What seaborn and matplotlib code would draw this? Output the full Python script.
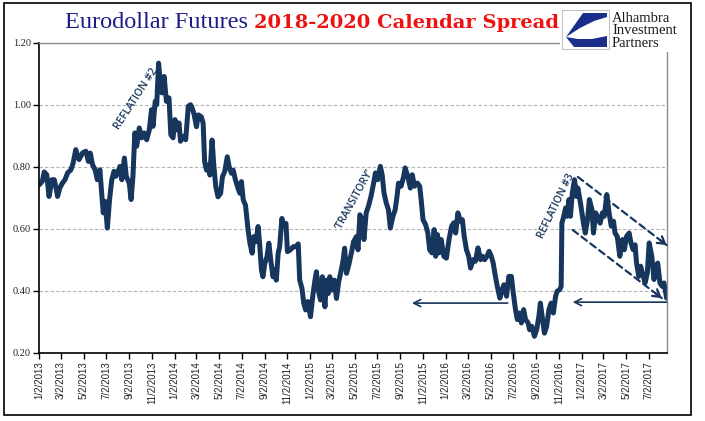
import matplotlib
matplotlib.use("Agg")
import matplotlib.pyplot as plt
from matplotlib.patches import Rectangle, Polygon
import numpy as np
import pandas as pd
import seaborn as sns

# daily-ish spread readings (month-day per year)
md_2013 = ["01-03", "01-11", "01-16", "01-23", "01-29", "02-06", "02-12", "02-16", "02-21", "02-27",
           "03-06", "03-13", "03-20", "03-29", "04-04", "04-11", "04-16", "04-20", "04-29", "05-08",
           "05-15", "05-20", "05-26", "06-02", "06-08", "06-15", "06-19", "06-24", "06-29", "07-05",
           "07-11", "07-17", "07-23", "07-28", "08-03", "08-08", "08-13", "08-20", "08-25", "09-02",
           "09-07", "09-12", "09-17", "09-22", "09-29", "10-06", "10-12", "10-19", "10-26", "11-01",
           "11-05", "11-11", "11-15", "11-20", "11-24", "11-29", "12-05", "12-11", "12-18", "12-23",
           "12-29"]
val_2013 = [0.743, 0.754, 0.784, 0.775, 0.705, 0.759, 0.759, 0.738, 0.705, 0.732,
            0.748, 0.759, 0.781, 0.791, 0.813, 0.856, 0.834, 0.824, 0.845, 0.851,
            0.818, 0.845, 0.808, 0.791, 0.759, 0.791, 0.727, 0.652, 0.689, 0.603,
            0.695, 0.759, 0.786, 0.770, 0.786, 0.802, 0.759, 0.829, 0.770, 0.748,
            0.695, 0.770, 0.910, 0.867, 0.926, 0.894, 0.910, 0.888, 0.920, 0.985,
            0.931, 1.012, 1.001, 1.135, 1.082, 1.039, 1.092, 1.012, 1.023, 0.904,
            0.894]

md_2014 = ["01-03", "01-09", "01-14", "01-18", "01-25", "02-01", "02-08", "02-14", "02-17", "02-23",
           "03-02", "03-07", "03-15", "03-20", "03-24", "03-29", "04-02", "04-07", "04-13", "04-18",
           "04-23", "04-29", "05-06", "05-11", "05-17", "05-24", "05-29", "06-04", "06-09", "06-15",
           "06-22", "06-27", "07-01", "07-06", "07-12", "07-19", "07-24", "07-30", "08-03", "08-09",
           "08-15", "08-19", "08-24", "08-28", "09-02", "09-08", "09-13", "09-18", "09-24", "09-29",
           "10-03", "10-08", "10-12", "10-18", "10-23", "10-29", "11-02", "11-09", "11-18", "11-25",
           "12-01", "12-05", "12-11", "12-16", "12-21", "12-27"]
val_2014 = [0.953, 0.920, 0.942, 0.883, 0.899, 0.888, 0.996, 1.001, 0.995, 0.973,
            0.930, 0.968, 0.962, 0.941, 0.817, 0.790, 0.806, 0.774, 0.887, 0.801,
            0.737, 0.704, 0.715, 0.769, 0.785, 0.833, 0.801, 0.780, 0.790, 0.758,
            0.731, 0.715, 0.753, 0.694, 0.677, 0.597, 0.554, 0.522, 0.575, 0.559,
            0.608, 0.554, 0.468, 0.446, 0.489, 0.511, 0.554, 0.500, 0.446, 0.468,
            0.435, 0.522, 0.543, 0.634, 0.608, 0.618, 0.527, 0.532, 0.543, 0.543,
            0.552, 0.435, 0.409, 0.360, 0.339, 0.366]

md_2015 = ["01-03", "01-09", "01-15", "01-19", "01-24", "01-30", "02-04", "02-11", "02-15", "02-20",
           "02-24", "03-02", "03-08", "03-14", "03-20", "03-27", "04-01", "04-05", "04-10", "04-17",
           "04-23", "04-29", "05-07", "05-11", "05-16", "05-22", "05-27", "06-02", "06-08", "06-15",
           "06-22", "06-27", "07-03", "07-10", "07-15", "07-20", "07-26", "08-01", "08-06", "08-13",
           "08-19", "08-24", "08-28", "09-04", "09-11", "09-15", "09-22", "09-29", "10-04", "10-10",
           "10-18", "10-24", "10-28", "11-02", "11-09", "11-15", "11-20", "11-26", "12-02", "12-06",
           "12-11", "12-15", "12-21", "12-28"]
val_2015 = [0.317, 0.382, 0.435, 0.462, 0.403, 0.371, 0.446, 0.349, 0.435, 0.392,
            0.446, 0.403, 0.435, 0.376, 0.430, 0.468, 0.500, 0.538, 0.457, 0.489,
            0.522, 0.559, 0.576, 0.533, 0.646, 0.630, 0.566, 0.652, 0.673, 0.705,
            0.748, 0.781, 0.759, 0.802, 0.775, 0.716, 0.684, 0.662, 0.603, 0.641,
            0.662, 0.705, 0.748, 0.738, 0.770, 0.797, 0.770, 0.732, 0.775, 0.738,
            0.748, 0.738, 0.695, 0.630, 0.614, 0.587, 0.533, 0.523, 0.598, 0.512,
            0.582, 0.523, 0.566, 0.512]

md_2016 = ["01-04", "01-11", "01-18", "01-24", "01-29", "02-04", "02-11", "02-16", "02-21", "02-27",
           "03-04", "03-09", "03-16", "03-22", "03-29", "04-05", "04-10", "04-16", "04-22", "04-28",
           "05-04", "05-09", "05-15", "05-20", "05-27", "06-02", "06-07", "06-14", "06-20", "06-27",
           "07-01", "07-08", "07-13", "07-19", "07-24", "07-30", "08-04", "08-11", "08-15", "08-21",
           "08-28", "09-03", "09-09", "09-13", "09-18", "09-24", "09-30", "10-06", "10-12", "10-18",
           "10-24", "10-28", "11-04", "11-08", "11-10", "11-15", "11-20", "11-24", "11-29", "12-03",
           "12-08", "12-14", "12-19", "12-23", "12-30"]
val_2016 = [0.506, 0.566, 0.609, 0.620, 0.587, 0.652, 0.625, 0.630, 0.576, 0.533,
            0.512, 0.474, 0.501, 0.496, 0.539, 0.501, 0.512, 0.501, 0.512, 0.528,
            0.512, 0.490, 0.447, 0.415, 0.377, 0.404, 0.420, 0.383, 0.447, 0.447,
            0.404, 0.340, 0.308, 0.329, 0.297, 0.340, 0.308, 0.297, 0.275, 0.286,
            0.254, 0.275, 0.318, 0.361, 0.318, 0.264, 0.286, 0.340, 0.361, 0.329,
            0.383, 0.399, 0.404, 0.415, 0.619, 0.641, 0.668, 0.641, 0.695, 0.641,
            0.716, 0.759, 0.705, 0.732, 0.684]

md_2017 = ["01-07", "01-12", "01-18", "01-23", "01-30", "02-03", "02-09", "02-15", "02-21", "02-27",
           "03-04", "03-11", "03-17", "03-23", "03-29", "04-02", "04-08", "04-15", "04-22", "04-27",
           "05-03", "05-10", "05-15", "05-21", "05-26", "05-30", "06-05", "06-10", "06-15", "06-22",
           "06-28", "07-03", "07-10", "07-16", "07-21", "07-26", "08-01", "08-07", "08-12", "08-19"]
val_2017 = [0.619, 0.587, 0.630, 0.695, 0.662, 0.587, 0.652, 0.635, 0.619, 0.652,
            0.641, 0.711, 0.652, 0.609, 0.625, 0.587, 0.576, 0.512, 0.566, 0.533,
            0.576, 0.587, 0.555, 0.533, 0.549, 0.490, 0.447, 0.480, 0.458, 0.426,
            0.458, 0.555, 0.512, 0.437, 0.480, 0.490, 0.426, 0.415, 0.426, 0.377]

yticks = [0.20, 0.40, 0.60, 0.80, 1.00, 1.20]

# notes on the chart
notes = ["REFLATION #2", "\u2019TRANSITORY\u2019", "REFLATION #3"]
note_dates = ["2013-09-20", "2015-05-02", "2016-10-27"]
note_vals = [1.019, 0.694, 0.674]
note_rot = [57, 61, 64]

# arrows: (tail date, tail value, head date, head value)
solid_arrows = [("2016-06-17", 0.361, "2015-10-03", 0.361),
                ("2017-08-19", 0.364, "2016-12-09", 0.364)]
dashed_arrows = [("2016-12-23", 0.768, "2017-08-19", 0.548),
                 ("2016-12-09", 0.597, "2017-08-06", 0.377)]

NAVY = "#17365d"

parts = []
for yr, md, vv in [(2013, md_2013, val_2013), (2014, md_2014, val_2014), (2015, md_2015, val_2015),
                   (2016, md_2016, val_2016), (2017, md_2017, val_2017)]:
    parts.append(pd.DataFrame({"date": pd.to_datetime([f"{yr}-{m}" for m in md]), "spread": vv}))
df = pd.concat(parts, ignore_index=True)

sns.set_style("white")
plt.rcParams["font.family"] = ["Liberation Sans", "DejaVu Sans"]

W, H = 705, 421
fig = plt.figure(figsize=(W / 100, H / 100), dpi=100)
ax = fig.add_axes([39 / W, 1 - 353 / H, 628 / W, 310 / H])

sns.lineplot(data=df, x="date", y="spread", ax=ax, color=NAVY, linewidth=3.6,
             solid_joinstyle="round", solid_capstyle="round", legend=False)

ax.set_xlim(pd.Timestamp("2013-01-02"), pd.Timestamp("2017-08-20"))
ax.set_ylim(0.2, 1.2)
ax.set_yticks(yticks)
ax.set_yticklabels([f"{v:.2f}" for v in yticks], fontfamily="Liberation Serif", fontsize=7.5, color="#222222")

tick_dates = pd.date_range("2013-01-01", "2017-07-01", freq="2MS") + pd.Timedelta(days=1)
ax.set_xticks(tick_dates)
ax.set_xticklabels([f"{d.month}/{d.day}/{d.year}" for d in tick_dates], rotation=90,
                   fontsize=7, color="#222222")
ax.set_xlabel("")
ax.set_ylabel("")

ax.grid(axis="y", linestyle=(0, (3, 2)), color="#b4b4b4", linewidth=0.8)
ax.grid(axis="x", visible=False)
for s in ["left", "bottom"]:
    ax.spines[s].set_color("black")
    ax.spines[s].set_linewidth(1.2)
for s in ["top", "right"]:
    ax.spines[s].set_color("#8c8c8c")
    ax.spines[s].set_linewidth(1.0)
ax.tick_params(axis="both", direction="out", length=4, width=1, color="black",
               bottom=True, left=True, pad=2)

for txt, d, v, r in zip(notes, note_dates, note_vals, note_rot):
    ax.text(pd.Timestamp(d), v, txt, rotation=r, rotation_mode="anchor", ha="center", va="center",
            fontfamily="Open Sans", fontweight="semibold", fontsize=7.5, color=NAVY)

for t_d, t_v, h_d, h_v in solid_arrows:
    ax.annotate("", xy=(pd.Timestamp(h_d), h_v), xytext=(pd.Timestamp(t_d), t_v),
                arrowprops=dict(arrowstyle="->,head_length=0.5,head_width=0.25", color=NAVY, lw=1.2,
                                shrinkA=0, shrinkB=0))
for t_d, t_v, h_d, h_v in dashed_arrows:
    t0, t1 = pd.Timestamp(t_d), pd.Timestamp(h_d)
    ax.annotate("", xy=(t1, h_v), xytext=(t0, t_v),
                arrowprops=dict(arrowstyle="-", color=NAVY, lw=1.6, linestyle=(0, (3, 2)),
                                shrinkA=0, shrinkB=0))
    back = t0 + (t1 - t0) * 0.93
    ax.annotate("", xy=(t1, h_v), xytext=(back, t_v + (h_v - t_v) * 0.93),
                arrowprops=dict(arrowstyle="->,head_length=0.5,head_width=0.3", color=NAVY, lw=1.6,
                                shrinkA=0, shrinkB=0))


def fx(px):
    return px / W


def fy(py):
    return 1 - py / H


# title
fig.text(fx(248), fy(28), "Eurodollar Futures", ha="right", va="baseline",
         fontfamily="Liberation Serif", fontsize=17.5, color="#1c1c86")
fig.text(fx(254), fy(28), "2018-2020 Calendar Spread", ha="left", va="baseline",
         fontfamily="DejaVu Serif", fontweight="bold", fontsize=14, color="#ee1111")

# logo area
fig.patches.append(Rectangle((fx(560), fy(52)), fx(690) - fx(560), fy(5) - fy(52),
                             transform=fig.transFigure, facecolor="white", edgecolor="none", zorder=3))
fig.patches.append(Rectangle((fx(562), fy(49)), fx(609) - fx(562), fy(10) - fy(49),
                             transform=fig.transFigure, facecolor="white", edgecolor="#c4c4c4",
                             lw=0.8, zorder=4))
upper = [(583, 13), (607, 13), (607, 17), (594, 21), (580, 28), (566, 37)]
lower = [(566, 37), (578, 39), (592, 39), (607, 36), (607, 47), (574, 47)]
for poly in (upper, lower):
    fig.patches.append(Polygon([(fx(a), fy(b)) for a, b in poly], closed=True,
                               transform=fig.transFigure, facecolor="#1a2d8a", edgecolor="none",
                               zorder=5))
for i, word in enumerate(["Alhambra", "Investment", "Partners"]):
    fig.text(fx(612), fy(22 + 12.5 * i), word, ha="left", va="baseline",
             fontfamily="Liberation Serif", fontsize=10.5, color="#1a1a1a", zorder=6)

# outer frame
fig.patches.append(Rectangle((fx(4), fy(415)), fx(691) - fx(4), fy(3) - fy(415),
                             transform=fig.transFigure, fill=False, edgecolor="black", lw=1.2,
                             zorder=7))

fig.savefig("out.png", dpi=100)
